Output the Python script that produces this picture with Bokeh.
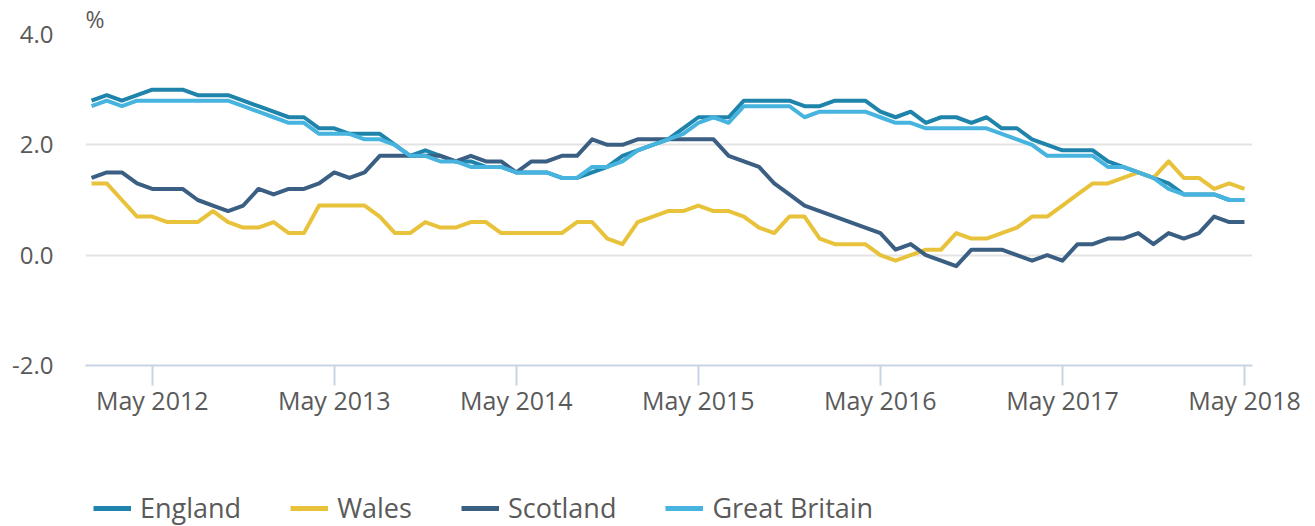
import pandas as pd
from bokeh.plotting import figure
from bokeh.layouts import column
from bokeh.models import Range1d, FixedTicker, Legend, LegendItem, NumeralTickFormatter, ColumnDataSource
from bokeh.embed import file_html
from bokeh.resources import INLINE

months = [d.strftime("%b %Y") for d in pd.date_range("2012-01-01", periods=77, freq="MS")]

england = [2.8, 2.9, 2.8, 2.9, 3.0, 3.0, 3.0, 2.9, 2.9, 2.9, 2.8, 2.7, 2.6, 2.5, 2.5, 2.3, 2.3, 2.2, 2.2, 2.2,
           2.0, 1.8, 1.9, 1.8, 1.7, 1.7, 1.6, 1.6, 1.5, 1.5, 1.5, 1.4, 1.4, 1.5, 1.6, 1.8, 1.9, 2.0, 2.1, 2.3,
           2.5, 2.5, 2.5, 2.8, 2.8, 2.8, 2.8, 2.7, 2.7, 2.8, 2.8, 2.8, 2.6, 2.5, 2.6, 2.4, 2.5, 2.5, 2.4, 2.5,
           2.3, 2.3, 2.1, 2.0, 1.9, 1.9, 1.9, 1.7, 1.6, 1.5, 1.4, 1.3, 1.1, 1.1, 1.1, 1.0, 1.0]
wales = [1.3, 1.3, 1.0, 0.7, 0.7, 0.6, 0.6, 0.6, 0.8, 0.6, 0.5, 0.5, 0.6, 0.4, 0.4, 0.9, 0.9, 0.9, 0.9, 0.7,
         0.4, 0.4, 0.6, 0.5, 0.5, 0.6, 0.6, 0.4, 0.4, 0.4, 0.4, 0.4, 0.6, 0.6, 0.3, 0.2, 0.6, 0.7, 0.8, 0.8,
         0.9, 0.8, 0.8, 0.7, 0.5, 0.4, 0.7, 0.7, 0.3, 0.2, 0.2, 0.2, 0.0, -0.1, 0.0, 0.1, 0.1, 0.4, 0.3, 0.3,
         0.4, 0.5, 0.7, 0.7, 0.9, 1.1, 1.3, 1.3, 1.4, 1.5, 1.4, 1.7, 1.4, 1.4, 1.2, 1.3, 1.2]
scotland = [1.4, 1.5, 1.5, 1.3, 1.2, 1.2, 1.2, 1.0, 0.9, 0.8, 0.9, 1.2, 1.1, 1.2, 1.2, 1.3, 1.5, 1.4, 1.5, 1.8,
            1.8, 1.8, 1.8, 1.8, 1.7, 1.8, 1.7, 1.7, 1.5, 1.7, 1.7, 1.8, 1.8, 2.1, 2.0, 2.0, 2.1, 2.1, 2.1, 2.1,
            2.1, 2.1, 1.8, 1.7, 1.6, 1.3, 1.1, 0.9, 0.8, 0.7, 0.6, 0.5, 0.4, 0.1, 0.2, 0.0, -0.1, -0.2, 0.1, 0.1,
            0.1, 0.0, -0.1, 0.0, -0.1, 0.2, 0.2, 0.3, 0.3, 0.4, 0.2, 0.4, 0.3, 0.4, 0.7, 0.6, 0.6]
great_britain = [2.7, 2.8, 2.7, 2.8, 2.8, 2.8, 2.8, 2.8, 2.8, 2.8, 2.7, 2.6, 2.5, 2.4, 2.4, 2.2, 2.2, 2.2, 2.1, 2.1,
                 2.0, 1.8, 1.8, 1.7, 1.7, 1.6, 1.6, 1.6, 1.5, 1.5, 1.5, 1.4, 1.4, 1.6, 1.6, 1.7, 1.9, 2.0, 2.1, 2.2,
                 2.4, 2.5, 2.4, 2.7, 2.7, 2.7, 2.7, 2.5, 2.6, 2.6, 2.6, 2.6, 2.5, 2.4, 2.4, 2.3, 2.3, 2.3, 2.3, 2.3,
                 2.2, 2.1, 2.0, 1.8, 1.8, 1.8, 1.8, 1.6, 1.6, 1.5, 1.4, 1.2, 1.1, 1.1, 1.1, 1.0, 1.0]

series_names = ["England", "Wales", "Scotland", "Great Britain"]
colors = ["#1f84ab", "#e8c23a", "#3a5f82", "#47b4df"]
tick_months = ["May 2012", "May 2013", "May 2014", "May 2015", "May 2016", "May 2017", "May 2018"]
y_ticks = [-2, 0, 2, 4]

idx = list(range(len(months)))
source = ColumnDataSource(dict(x=idx, month=months, England=england, Wales=wales,
                               Scotland=scotland, GB=great_britain))
cols = ["England", "Wales", "Scotland", "GB"]

# ---------------- main chart ----------------
p = figure(width=1315, height=460, output_backend="svg", toolbar_location=None,
           x_range=Range1d(-0.4, 76.53), y_range=Range1d(-2, 4),
           min_border_left=85, min_border_right=63, min_border_top=34, min_border_bottom=95)
p.outline_line_color = None

p.title.text = "%"
p.title.align = "left"
p.title.standoff = 0
p.title.offset = 0
p.title.text_font = "Open Sans"
p.title.text_font_style = "normal"
p.title.text_font_size = "23px"
p.title.text_color = "#5a5a5a"

for col, c in zip(cols, colors):
    p.line("x", col, source=source, line_color=c, line_width=4, line_join="round")

tick_idx = [months.index(m) for m in tick_months]
p.xaxis.ticker = FixedTicker(ticks=tick_idx)
p.xaxis.major_label_overrides = {i: m for i, m in zip(tick_idx, tick_months)}
p.xaxis.axis_line_color = "#c9d4e4"
p.xaxis.axis_line_width = 2
p.xaxis.major_tick_line_color = "#c9d4e4"
p.xaxis.major_tick_line_width = 2
p.xaxis.major_tick_out = 20
p.xaxis.major_tick_in = 0
p.xaxis.minor_tick_line_color = None
p.xaxis.major_label_text_font = "Open Sans"
p.xaxis.major_label_text_font_size = "25px"
p.xaxis.major_label_text_color = "#5a5a5a"
p.xaxis.major_label_standoff = -3

p.yaxis.ticker = FixedTicker(ticks=y_ticks)
p.yaxis.formatter = NumeralTickFormatter(format="0.0")
p.yaxis.axis_line_color = None
p.yaxis.major_tick_line_color = None
p.yaxis.minor_tick_line_color = None
p.yaxis.major_label_text_font = "Open Sans"
p.yaxis.major_label_text_font_size = "24px"
p.yaxis.major_label_text_color = "#5a5a5a"
p.yaxis.major_label_standoff = 26

p.xgrid.grid_line_color = None
p.ygrid.grid_line_color = "#e3e3e3"
p.ygrid.grid_line_width = 2

# ---------------- legend strip ----------------
lg = figure(width=1315, height=66, output_backend="svg", toolbar_location=None,
            x_range=Range1d(1000, 1001), y_range=Range1d(0, 1),
            min_border_left=0, min_border_right=0, min_border_top=0, min_border_bottom=0,
            x_axis_type=None, y_axis_type=None)
lg.outline_line_color = None
lg.grid.visible = False
lg_renderers = [lg.line("x", col, source=source, line_color=c, line_width=5)
                for col, c in zip(cols, colors)]

items = [LegendItem(label=n, renderers=[r]) for n, r in zip(series_names, lg_renderers)]
legend = Legend(items=items, orientation="horizontal", location=(8, 0),
                padding=0, margin=0, spacing=49, label_standoff=9,
                glyph_width=38, glyph_height=34, label_height=34,
                label_text_font="Open Sans", label_text_font_size="27px",
                label_text_color="#5a5a5a", background_fill_alpha=0,
                border_line_alpha=0)
lg.add_layout(legend, "center")

layout = column(p, lg, spacing=0)
open("out.html", "w").write(file_html(layout, INLINE))
